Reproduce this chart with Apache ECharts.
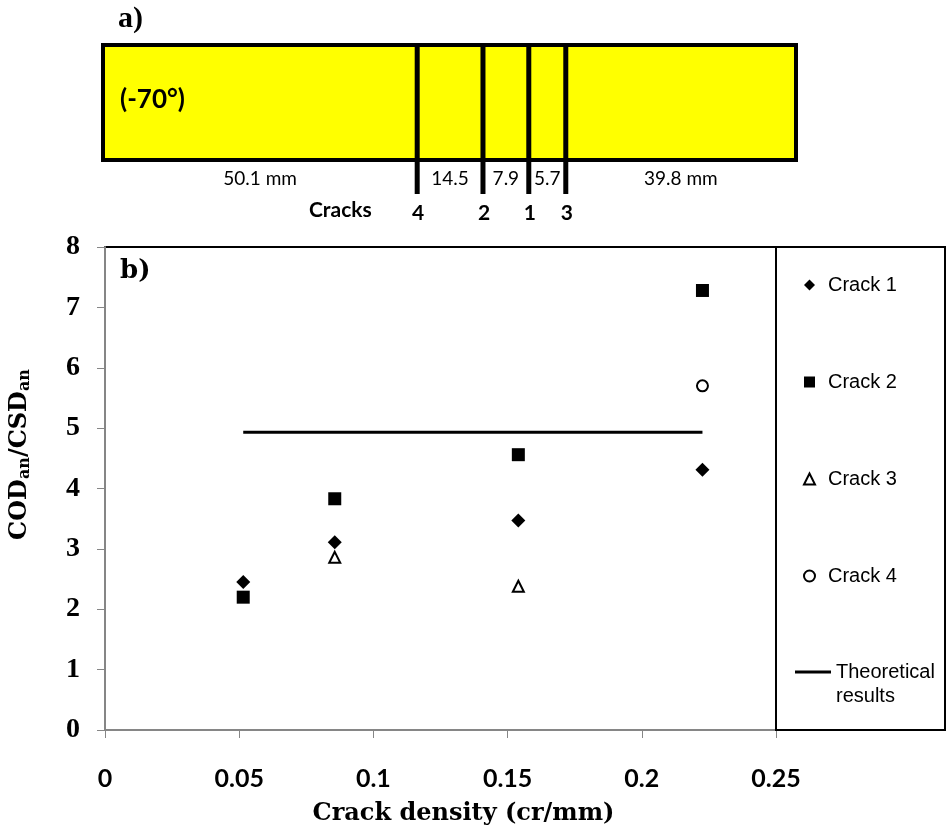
<!DOCTYPE html>
<html>
<head>
<meta charset="utf-8">
<script src="https://cdn.jsdelivr.net/npm/echarts@6/dist/echarts.min.js"></script>
<style>
html, body { margin: 0; padding: 0; background: #fff; }
#chart { width: 947px; height: 835px; }
</style>
</head>
<body>
<div id="chart"></div>
<script>
// b) measured points
var crackDensity = [0.0515, 0.0856, 0.154, 0.2226];
var crack1 = [2.45, 3.11, 3.47, 4.31];
var crack2 = [2.20, 3.83, 4.56, 7.28];
var crack3 = [null, 2.86, 2.38, null];
var crack4 = [null, null, null, 5.70];
var theoretical = [4.93, 4.93];
var theoreticalX = [0.0515, 0.2226];

// a) specimen sketch (positions along the drawn specimen)
var specimenLength = 118;
var crackNames = ['4', '2', '1', '3'];
var crackPos = [53.5, 64.7, 72.5, 78.8];
var gapLabels = ['50.1 mm', '14.5', '7.9', '5.7', '39.8 mm'];

function pairs(xs, ys) {
	var out = [];
	for (var i = 0; i < xs.length; i++) {
		if (ys[i] != null) out.push([xs[i], ys[i]]);
	}
	return out;
}

var edges = [0].concat(crackPos, [specimenLength]);
var gapData = [];
for (var i = 0; i < gapLabels.length; i++) {
	gapData.push([(edges[i] + edges[i + 1]) / 2, gapLabels[i]]);
}
var crackData = crackPos.map(function (p, i) { return [p, crackNames[i]]; });

var serif = 'DejaVu Serif';
var sans = 'Lato';
var solid = { color: '#000', opacity: 1 };
var hollow = { color: '#fff', borderColor: '#000', borderWidth: 2, opacity: 1 };

var chart = echarts.init(document.getElementById('chart'));
chart.setOption({
	animation: false,
	grid: [
		{ left: 105, right: 171, top: 247, bottom: 105, show: true, borderColor: '#000', borderWidth: 2, outerBoundsMode: 'none', containLabel: false },
		{ left: 103, top: 45, width: 693, height: 115, outerBoundsMode: 'none' }
	],
	xAxis: [
		{
			type: 'value', min: 0, max: 0.25, interval: 0.05,
			axisLine: { lineStyle: { color: '#868686', width: 2 } },
			axisTick: { length: 8, lineStyle: { color: '#868686', width: 1 } },
			splitLine: { show: false },
			axisLabel: { margin: 36, color: '#000', fontFamily: sans, fontWeight: 'bold', fontSize: 25 },
			name: 'Crack density (cr/mm)', nameLocation: 'middle', nameGap: 72,
			nameMoveOverlap: false,
			nameTextStyle: { color: '#000', fontFamily: serif, fontWeight: 'bold', fontSize: 24, padding: [0, 0, 0, 46] }
		},
		{ type: 'value', gridIndex: 1, min: 0, max: specimenLength, show: false }
	],
	yAxis: [
		{
			type: 'value', min: 0, max: 8, interval: 1,
			axisLine: { show: true, lineStyle: { color: '#868686', width: 2 } },
			axisTick: { show: true, length: 8, lineStyle: { color: '#868686', width: 1 } },
			splitLine: { show: false },
			axisLabel: { margin: 25, color: '#000', fontFamily: 'Liberation Serif', fontWeight: 'bold', fontSize: 28 },
			name: 'COD{s|an}/CSD{s|an}', nameLocation: 'middle', nameGap: 72,
			nameMoveOverlap: false,
			nameTextStyle: {
				color: '#000', fontFamily: serif, fontWeight: 'bold', fontSize: 24, padding: [0, 0, 0, 68],
				rich: { s: { fontFamily: serif, fontWeight: 'bold', fontSize: 16, verticalAlign: 'bottom', padding: [10, 0, 0, 0] } }
			}
		},
		{ type: 'value', gridIndex: 1, min: 0, max: 1, show: false }
	],
	legend: [
		{
			orient: 'vertical', left: 798, top: 270, itemWidth: 11, itemHeight: 11, itemGap: 77,
			data: ['Crack 1', 'Crack 2', 'Crack 3', 'Crack 4'],
			textStyle: { color: '#000', fontFamily: 'Liberation Sans', fontSize: 20, padding: [0, 0, 0, 8] }
		},
		{
			orient: 'vertical', left: 790, top: 631, itemWidth: 36, itemHeight: 3,
			data: [{ name: 'Theoretical results', icon: 'rect', itemStyle: { color: '#000' } }],
			formatter: function () { return ' \nTheoretical\nresults'; },
			textStyle: { color: '#000', fontFamily: 'Liberation Sans', fontSize: 20, lineHeight: 24 }
		}
	],
	graphic: [
		{ type: 'rect', shape: { x: 776, y: 247, width: 169, height: 483 }, style: { fill: 'none', stroke: '#000', lineWidth: 2 }, z: 10 },
		{ type: 'text', left: 118, top: 4, style: { text: 'a)', fill: '#000', font: 'bold 30px "Liberation Serif"' } },
		{ type: 'text', left: 120, top: 87, style: { text: '(-70°)', fill: '#000', font: 'bold 26px Lato' }, z: 5 },
		{ type: 'text', left: 309, top: 200, style: { text: 'Cracks', fill: '#000', font: 'bold 21px Lato' } },
		{ type: 'text', left: 120, top: 258, style: { text: 'b)', fill: '#000', font: 'bold 26px "DejaVu Serif"' } }
	],
	series: [
		{
			name: 'Crack 1', type: 'scatter', symbol: 'diamond', symbolSize: 14,
			itemStyle: solid, data: pairs(crackDensity, crack1)
		},
		{
			name: 'Crack 2', type: 'scatter', symbol: 'rect', symbolSize: 13,
			itemStyle: solid, data: pairs(crackDensity, crack2)
		},
		{
			name: 'Crack 3', type: 'scatter', symbol: 'triangle', symbolSize: 11,
			itemStyle: hollow, data: pairs(crackDensity, crack3)
		},
		{
			name: 'Crack 4', type: 'scatter', symbol: 'circle', symbolSize: 11,
			itemStyle: hollow, data: pairs(crackDensity, crack4)
		},
		{
			name: 'Theoretical results', type: 'line', symbol: 'none',
			lineStyle: { color: '#000', width: 3 }, itemStyle: { color: '#000' },
			data: pairs(theoreticalX, theoretical)
		},
		{
			type: 'custom', xAxisIndex: 1, yAxisIndex: 1, silent: true, z: 1,
			data: [[0, specimenLength]],
			renderItem: function (params, api) {
				var p0 = api.coord([api.value(0), 1]);
				var p1 = api.coord([api.value(1), 0]);
				return {
					type: 'rect',
					shape: { x: p0[0], y: p0[1], width: p1[0] - p0[0], height: p1[1] - p0[1] },
					style: { fill: '#ffff00', stroke: '#000', lineWidth: 4 }
				};
			}
		},
		{
			type: 'custom', xAxisIndex: 1, yAxisIndex: 1, silent: true, z: 3,
			data: crackData,
			renderItem: function (params, api) {
				var top = api.coord([api.value(0), 1]);
				var bot = api.coord([api.value(0), 0]);
				return {
					type: 'group',
					children: [
						{ type: 'line', shape: { x1: top[0], y1: top[1], x2: bot[0], y2: bot[1] + 34 }, style: { stroke: '#000', lineWidth: 5 } },
						{ type: 'text', style: { text: crackData[params.dataIndex][1], x: bot[0] + 1, y: bot[1] + 53, align: 'center', verticalAlign: 'middle', fill: '#000', font: 'bold 21px Lato' } }
					]
				};
			}
		},
		{
			type: 'custom', xAxisIndex: 1, yAxisIndex: 1, silent: true, z: 3,
			data: gapData,
			renderItem: function (params, api) {
				var p = api.coord([api.value(0), 0]);
				return {
					type: 'text',
					style: { text: gapData[params.dataIndex][1], x: p[0], y: p[1] + 19, align: 'center', verticalAlign: 'middle', fill: '#000', font: '19px Lato' }
				};
			}
		}
	]
});
</script>
</body>
</html>
